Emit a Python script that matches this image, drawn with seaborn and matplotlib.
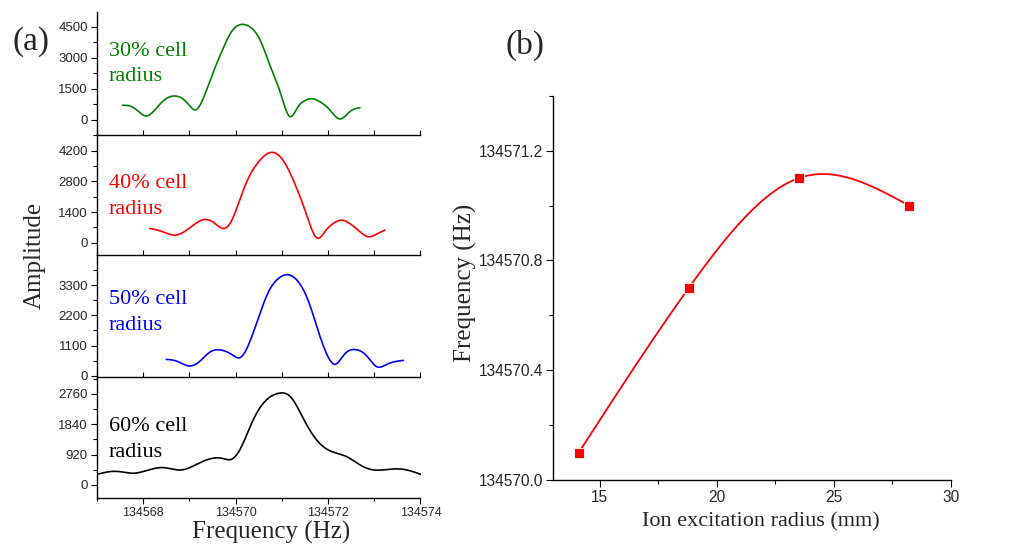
import numpy as np
import matplotlib
matplotlib.use('Agg')
import matplotlib.pyplot as plt
import seaborn as sns
from matplotlib.ticker import MultipleLocator, FormatStrFormatter

############################ DATA ############################

# (a) spectra, frequency in Hz and amplitude
freq_30 = [134567.55, 134567.71, 134567.86, 134568.07, 134568.25, 134568.43, 134568.66,
           134568.87, 134569.01, 134569.12, 134569.30, 134569.52, 134569.73, 134569.91,
           134570.13, 134570.35, 134570.53, 134570.74, 134570.96, 134571.18, 134571.35,
           134571.46, 134571.64, 134571.82, 134572.04, 134572.26, 134572.47, 134572.69]
amp_30 = [707, 675, 482, 193, 482, 916, 1157, 996, 675, 482, 1044, 2330, 3455, 4258,
          4612, 4420, 3856, 2651, 1366, 161, 643, 884, 1028, 884, 482, 48, 402, 595]

freq_40 = [134568.14, 134568.36, 134568.69, 134568.94, 134569.30, 134569.50, 134569.73,
           134569.88, 134570.06, 134570.27, 134570.49, 134570.78, 134571.03, 134571.25,
           134571.50, 134571.79, 134571.93, 134572.11, 134572.29, 134572.47, 134572.69,
           134572.87, 134573.05, 134573.23]
amp_40 = [650, 544, 348, 574, 1050, 960, 652, 879, 1785, 2917, 3669, 4122, 3746, 2840,
          1481, 199, 498, 876, 1027, 876, 499, 272, 393, 574]

freq_50 = [134568.50, 134568.72, 134569.01, 134569.23, 134569.44, 134569.70, 134569.93,
           134570.09, 134570.31, 134570.49, 134570.71, 134570.92, 134571.14, 134571.36,
           134571.58, 134571.79, 134572.01, 134572.15, 134572.35, 134572.58, 134572.84,
           134573.05, 134573.27, 134573.63]
amp_50 = [598, 538, 359, 538, 861, 933, 760, 660, 1255, 2095, 3049, 3530, 3673, 3408,
          2690, 1614, 660, 420, 778, 957, 718, 335, 419, 562]

freq_60 = [134567.01, 134567.28, 134567.49, 134567.78, 134568.07, 134568.43, 134568.83,
           134569.23, 134569.51, 134569.70, 134569.91, 134570.09, 134570.38, 134570.67,
           134570.96, 134571.18, 134571.46, 134571.75, 134572.00, 134572.40, 134572.69,
           134572.98, 134573.41, 134573.70, 134574.00]
amp_60 = [324, 404, 404, 354, 435, 526, 455, 677, 809, 809, 778, 1062, 1971, 2578, 2780,
          2679, 2022, 1365, 1062, 859, 607, 455, 485, 455, 324]

labels = ['30% cell\nradius', '40% cell\nradius', '50% cell\nradius', '60% cell\nradius']
colors = ['#008000', '#FF0000', '#0000FF', '#000000']

# (b) peak frequency vs excitation radius
radius_mm = [14.1, 18.8, 23.5, 28.2]
peak_freq = [134570.1, 134570.7, 134571.1, 134571.0]


def smooth(x, y, n=400):
    # natural cubic spline through the read points (Origin "spline" look)
    x = np.asarray(x, float)
    y = np.asarray(y, float)
    k = len(x)
    h = np.diff(x)
    A = np.zeros((k, k))
    b = np.zeros(k)
    A[0, 0] = A[-1, -1] = 1
    for i in range(1, k - 1):
        A[i, i - 1] = h[i - 1]
        A[i, i] = 2 * (h[i - 1] + h[i])
        A[i, i + 1] = h[i]
        b[i] = 3 * ((y[i + 1] - y[i]) / h[i] - (y[i] - y[i - 1]) / h[i - 1])
    c = np.linalg.solve(A, b)
    bb = (y[1:] - y[:-1]) / h - h * (2 * c[:-1] + c[1:]) / 3
    d = (c[1:] - c[:-1]) / (3 * h)
    xs = np.linspace(x[0], x[-1], n)
    idx = np.clip(np.searchsorted(x, xs) - 1, 0, k - 2)
    dx = xs - x[idx]
    ys = y[idx] + bb[idx] * dx + c[idx] * dx ** 2 + d[idx] * dx ** 3
    return xs, ys


############################ PLOT ############################

sns.set_theme(style='ticks')
plt.rcParams['font.family'] = ['Liberation Sans', 'DejaVu Sans']
serif = ['Liberation Serif', 'DejaVu Serif']

W, H = 1036, 548
fig = plt.figure(figsize=(W / 100, H / 100), dpi=100)

# panel layout in pixels (top, bottom), y limits, tick step, label centre
rows = [(11.7, 134.7), (134.7, 255.0), (255.0, 376.7), (376.7, 497.7)]
ylims = [(-710, 5225), (-560, 4925), (-30, 4390), (-385, 3275)]
steps = [1500, 1400, 1100, 920]
label_y = [64, 196.5, 312.5, 439.5]
spectra = [(freq_30, amp_30), (freq_40, amp_40), (freq_50, amp_50), (freq_60, amp_60)]

for i in range(4):
    top, bot = rows[i]
    ax = fig.add_axes([97 / W, 1 - bot / H, (420.5 - 97) / W, (bot - top) / H])
    xs, ys = smooth(*spectra[i])
    sns.lineplot(x=xs, y=ys, ax=ax, color=colors[i], lw=1.2, sort=False, estimator=None)
    ax.set_xlim(134567, 134574)
    ax.set_ylim(*ylims[i])
    ax.patch.set_alpha(0)
    for s in ['top', 'right']:
        ax.spines[s].set_visible(False)
    for s in ['left', 'bottom']:
        ax.spines[s].set_linewidth(1.0)
        ax.spines[s].set_color('black')
    ax.yaxis.set_major_locator(MultipleLocator(steps[i]))
    ax.yaxis.set_minor_locator(MultipleLocator(steps[i] / 2))
    ax.xaxis.set_major_locator(MultipleLocator(2))
    ax.xaxis.set_minor_locator(MultipleLocator(1))
    ax.xaxis.set_major_formatter(FormatStrFormatter('%d'))
    ax.tick_params(axis='y', which='major', direction='out', length=4.5, width=0.8,
                   labelsize=9.5, pad=2, color='black')
    ax.tick_params(axis='y', which='minor', direction='out', length=3, width=0.8, color='black')
    if i < 3:
        ax.tick_params(axis='x', which='both', direction='in', length=3.5, width=0.8,
                       labelbottom=False, color='black')
    else:
        ax.tick_params(axis='x', which='major', direction='out', length=4, width=0.8,
                       labelsize=9, pad=3, color='black')
        ax.tick_params(axis='x', which='minor', direction='out', length=2.5, width=0.8,
                       color='black')
    ax.set_xlabel('')
    ax.set_ylabel('')
    fig.text(109 / W, 1 - label_y[i] / H, labels[i], color=colors[i], fontsize=16,
             family=serif, va='center', ha='left', linespacing=1.45)

fig.text(35 / W, 1 - 255 / H, 'Amplitude', rotation=90, fontsize=18, family=serif,
         ha='center', va='center')
fig.text(271 / W, 1 - 532 / H, 'Frequency (Hz)', fontsize=18, family=serif,
         ha='center', va='center')
fig.text(12 / W, 1 - 42 / H, '(a)', fontsize=24, family=serif, ha='left', va='center')
fig.text(525 / W, 1 - 45 / H, '(b)', fontsize=24, family=serif, ha='center', va='center')

# (b)
axb = fig.add_axes([553 / W, 1 - 480 / H, (951 - 553) / W, (480 - 95.7) / H])
xs, ys = smooth(radius_mm, peak_freq)
sns.lineplot(x=xs, y=ys, ax=axb, color='#FF0000', lw=1.3, sort=False, estimator=None)
sns.scatterplot(x=radius_mm, y=peak_freq, ax=axb, marker='s', s=45, color='#FF0000',
                edgecolor='white', linewidth=0.6, zorder=3)
axb.set_xlim(13, 30)
axb.set_ylim(134570.0, 134571.4)
axb.patch.set_alpha(0)
for s in ['top', 'right']:
    axb.spines[s].set_visible(False)
for s in ['left', 'bottom']:
    axb.spines[s].set_linewidth(1.0)
    axb.spines[s].set_color('black')
axb.xaxis.set_major_locator(MultipleLocator(5))
axb.xaxis.set_minor_locator(MultipleLocator(2.5))
axb.yaxis.set_major_locator(MultipleLocator(0.4))
axb.yaxis.set_minor_locator(MultipleLocator(0.2))
axb.yaxis.set_major_formatter(FormatStrFormatter('%.1f'))
axb.tick_params(which='major', direction='out', length=5, width=0.8, labelsize=11.2,
                pad=2, color='black')
axb.tick_params(which='minor', direction='out', length=3, width=0.8, color='black')
axb.set_xlabel('')
axb.set_ylabel('')
fig.text(761 / W, 1 - 522 / H, 'Ion excitation radius (mm)', fontsize=16, family=serif,
         ha='center', va='center')
fig.text(465 / W, 1 - 283 / H, 'Frequency (Hz)', rotation=90, fontsize=18, family=serif,
         ha='center', va='center')

fig.savefig('out.png', dpi=100)
